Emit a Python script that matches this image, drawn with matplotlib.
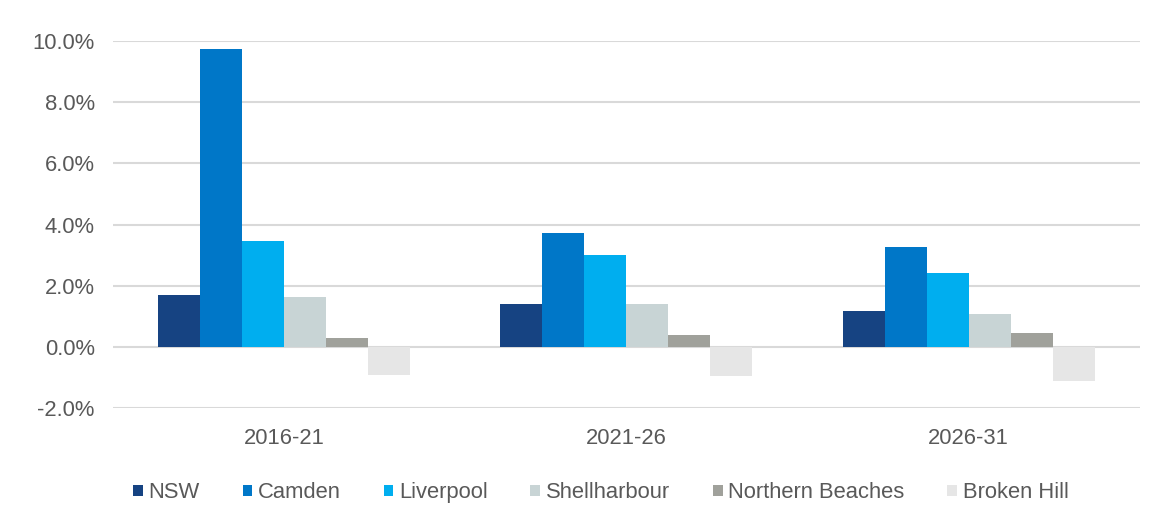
import numpy as np
import matplotlib.pyplot as plt
from matplotlib.ticker import FuncFormatter

periods = ['2016-21', '2021-26', '2026-31']
regions = ['NSW', 'Camden', 'Liverpool', 'Shellharbour', 'Northern Beaches', 'Broken Hill']
growth = {
    'NSW': [1.70, 1.39, 1.19],
    'Camden': [9.73, 3.71, 3.28],
    'Liverpool': [3.47, 2.99, 2.43],
    'Shellharbour': [1.62, 1.39, 1.09],
    'Northern Beaches': [0.30, 0.40, 0.45],
    'Broken Hill': [-0.93, -0.95, -1.11],
}
colours = ['#164382', '#0077C8', '#00AEEF', '#C8D4D5', '#A0A19B', '#E6E6E6']

plt.rcParams['font.family'] = ['Liberation Sans', 'DejaVu Sans']
fig = plt.figure(figsize=(11.62, 5.16), dpi=100)
ax = fig.add_axes([0.097, 0.209, 0.884, 0.7115])

x = np.arange(len(periods))
w = 0.1228
for i, r in enumerate(regions):
    ax.bar(x + (i - 2.5) * w, growth[r], w, color=colours[i], label=r, zorder=3)

ax.set_ylim(-2, 10)
ax.set_xlim(-0.5, 2.5)
ax.set_yticks(np.arange(-2, 10.1, 2))
ax.yaxis.set_major_formatter(FuncFormatter(lambda v, p: '%.1f%%' % v))
ax.set_xticks(x)
ax.set_xticklabels(periods)
ax.grid(axis='y', color='#D9D9D9', linewidth=1.5, zorder=0)
for s in ax.spines.values():
    s.set_visible(False)
ax.tick_params(length=0, labelsize=15.8, colors='#595959')
ax.tick_params(axis='y', pad=13)
ax.tick_params(axis='x', pad=14)

fig.legend(loc='center', bbox_to_anchor=(0.517, 0.045), ncol=6, frameon=False,
           fontsize=15.8, labelcolor='#595959', handlelength=0.45, handleheight=0.45,
           handletextpad=0.25, columnspacing=1.95)

fig.savefig('out.png', dpi=100)
